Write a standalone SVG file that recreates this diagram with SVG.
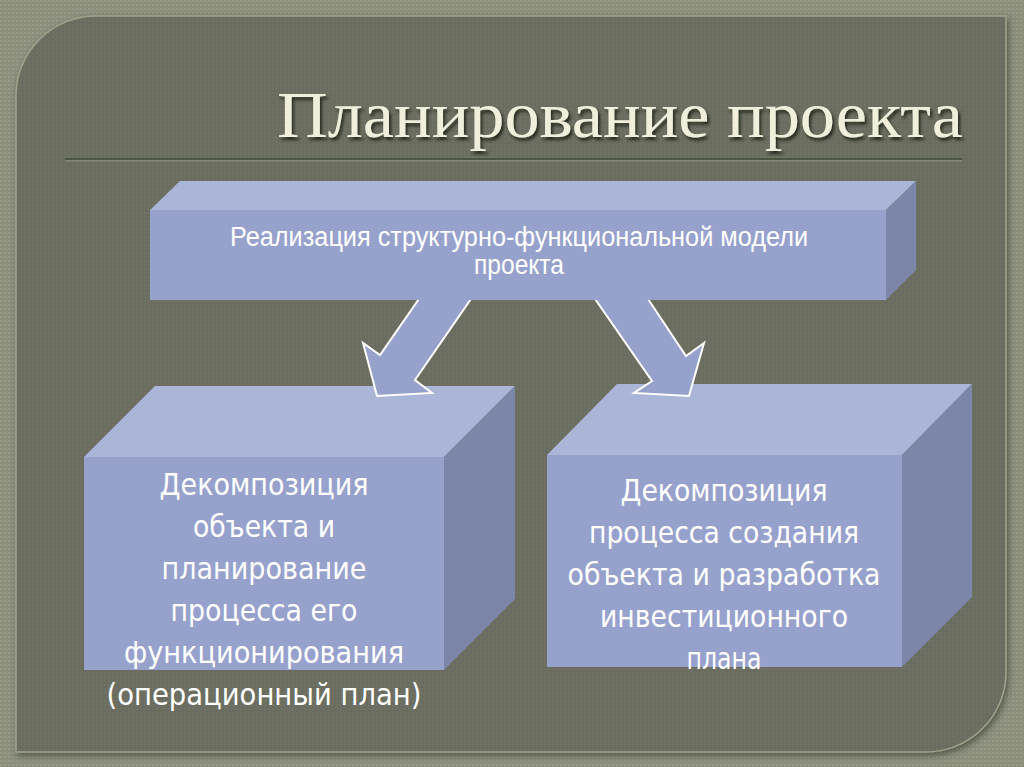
<svg xmlns="http://www.w3.org/2000/svg" width="1024" height="767" viewBox="0 0 1024 767">
<defs>
<pattern id="texOuter" width="4" height="4" patternUnits="userSpaceOnUse">
<rect width="4" height="4" fill="#8b8f7c"/>
<rect width="2" height="2" fill="#959985"/>
</pattern>
<pattern id="texInner" width="4" height="4" patternUnits="userSpaceOnUse">
<rect width="4" height="4" fill="#6a6d5e"/>
<rect width="2" height="2" fill="#707363"/>
</pattern>
<filter id="panelShadow" x="-5%" y="-5%" width="110%" height="110%">
<feDropShadow dx="2" dy="3" stdDeviation="3" flood-color="#2e3028" flood-opacity="0.6"/>
</filter>
<filter id="titleShadow" x="-5%" y="-20%" width="110%" height="150%">
<feDropShadow dx="2" dy="3" stdDeviation="1.5" flood-color="#1e2018" flood-opacity="0.9"/>
</filter>
<style>
.top{fill:#abb5d7}
.front{fill:#97a2cc}
.side{fill:#7b86a9}
.arrow{fill:#97a2cc;stroke:#ffffff;stroke-width:2;stroke-linejoin:miter}
.big{font-family:"DejaVu Sans","Liberation Sans",sans-serif;font-size:30px;fill:#ffffff;text-anchor:middle}
.small{font-family:"Liberation Sans","DejaVu Sans",sans-serif;font-size:27px;fill:#ffffff;text-anchor:middle}
.title{font-family:"Liberation Serif","DejaVu Serif",serif;font-size:66px;fill:#efefdc}
</style>
</defs>
<rect x="0" y="0" width="1024" height="767" fill="url(#texOuter)"/>
<g id="panel">
<path d="M96,16 L1006,16 L1006,672 A80,80 0 0 1 926,752 L16,752 L16,96 A80,80 0 0 1 96,16 Z" fill="url(#texInner)" filter="url(#panelShadow)" stroke="#9ea28d" stroke-width="1.5"/>
</g>
<g id="title">
<text class="title" x="277" y="137" textLength="686" lengthAdjust="spacingAndGlyphs" filter="url(#titleShadow)">Планирование проекта</text>
<line x1="65" y1="159" x2="962" y2="159" stroke="#4b5742" stroke-width="2"/>
<line x1="65" y1="160.8" x2="962" y2="160.8" stroke="#8f9580" stroke-width="1"/>
</g>
<g id="node-left">
<polygon class="top" points="84,457 155,386 515,386 444,457"/>
<polygon class="side" points="444,457 515,386 515,599 444,670"/>
<rect class="front" x="84" y="457" width="360" height="213"/>
<text class="big" x="264" y="495" textLength="209" lengthAdjust="spacingAndGlyphs">Декомпозиция</text>
<text class="big" x="264" y="537" textLength="142" lengthAdjust="spacingAndGlyphs">объекта и</text>
<text class="big" x="264" y="579" textLength="205" lengthAdjust="spacingAndGlyphs">планирование</text>
<text class="big" x="264" y="621" textLength="187" lengthAdjust="spacingAndGlyphs">процесса его</text>
<text class="big" x="264" y="663" textLength="280" lengthAdjust="spacingAndGlyphs">функционирования</text>
<text class="big" x="264" y="705" textLength="315" lengthAdjust="spacingAndGlyphs">(операционный план)</text>
</g>
<g id="node-right">
<polygon class="top" points="547,455 617,384 972,384 902,455"/>
<polygon class="side" points="902,455 972,384 972,597 902,667"/>
<rect class="front" x="547" y="455" width="355" height="212"/>
<text class="big" x="724" y="501" textLength="207" lengthAdjust="spacingAndGlyphs">Декомпозиция</text>
<text class="big" x="724" y="543" textLength="270" lengthAdjust="spacingAndGlyphs">процесса создания</text>
<text class="big" x="724" y="585" textLength="313" lengthAdjust="spacingAndGlyphs">объекта и разработка</text>
<text class="big" x="724" y="627" textLength="248" lengthAdjust="spacingAndGlyphs">инвестиционного</text>
<text class="big" x="724" y="669" textLength="75" lengthAdjust="spacingAndGlyphs">плана</text>
</g>
<g id="connectors">
<polygon class="arrow" points="421,296 473,296 415,380 432,393 377,396 363,343 380,355"/>
<polygon class="arrow" points="593,296 646,296 686,356 704,343 689,396 634,393 652,381"/>
</g>
<g id="node-top">
<polygon class="top" points="150,210 180,181 916,181 886,210"/>
<polygon class="side" points="886,210 916,181 916,270 886,300"/>
<rect class="front" x="150" y="210" width="736" height="90"/>
<text class="small" x="519" y="246" textLength="578" lengthAdjust="spacingAndGlyphs">Реализация структурно-функциональной модели</text>
<text class="small" x="519" y="274" textLength="90" lengthAdjust="spacingAndGlyphs">проекта</text>
</g>
</svg>
